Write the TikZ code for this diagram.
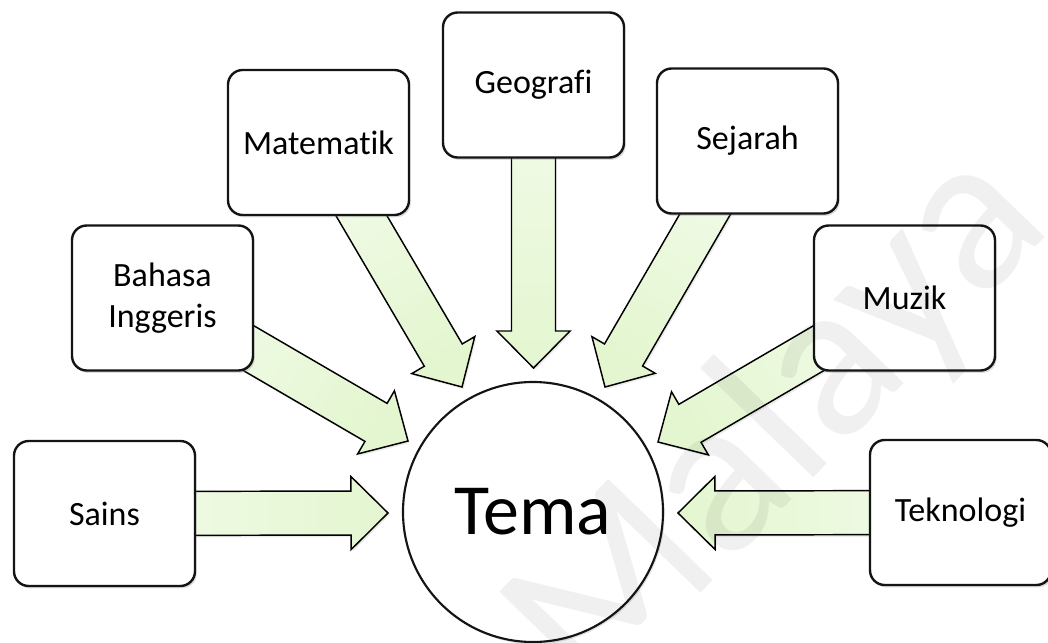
\documentclass[tikz,border=0pt]{standalone}
\usepackage{fontspec}
\setmainfont{Carlito}[Ligatures={NoCommon}]
\usetikzlibrary{calc,shadows}
\definecolor{arrstart}{RGB}{242,251,233}
\definecolor{arrtip}{RGB}{228,246,208}
\definecolor{boxline}{RGB}{20,20,20}
\tikzset{
  subj/.style={draw=boxline, line width=1.8pt, fill=white, rounded corners=11pt,
    minimum width=135.75pt, minimum height=108.75pt, inner sep=0pt, align=center,
    font=\fontsize{25.5pt}{30.75pt}\selectfont,
    drop shadow={opacity=0.28, shadow xshift=1.3pt, shadow yshift=-1.8pt}},
  themenode/.style={circle, draw=boxline, line width=1.6pt, fill=white,
    minimum size=195pt, inner sep=0pt, font=\fontsize{54pt}{60pt}\selectfont,
    drop shadow={opacity=0.22, shadow xshift=1.2pt, shadow yshift=-1.6pt}},
  fatarr/.style={draw=black, line width=1.1pt, line join=miter,
    top color=arrstart, bottom color=arrtip,
    drop shadow={opacity=0.15, shadow xshift=1.2pt, shadow yshift=-1.6pt}},
  wmark/.style={text=black, text opacity=0.06, font=\fontsize{170pt}{170pt}\selectfont}
}
\newcommand{\fatarrow}[3]{%
  \coordinate (fa-b) at ($(#2)!27.75pt!(#1)$);
  \path[fatarr, shading angle=#3]
    ($(#1)!16.5pt!90:(#2)$) -- ($(fa-b)!16.5pt!90:(#2)$) -- ($(fa-b)!27.4pt!90:(#2)$) -- (#2)
    -- ($(fa-b)!27.4pt!-90:(#2)$) -- ($(fa-b)!16.5pt!-90:(#2)$) -- ($(#1)!16.5pt!-90:(#2)$) -- cycle;
}
\begin{document}
\begin{tikzpicture}[x=0.75pt,y=-0.75pt]
\useasboundingbox (0,0) rectangle (1048,642);
% centres of the subject boxes
\coordinate (c-sains) at (104.5,513.5);
\coordinate (c-bahasa) at (162.5,298);
\coordinate (c-mate) at (318.5,142.5);
\coordinate (c-geo) at (533.5,85);
\coordinate (c-sej) at (747.5,141);
\coordinate (c-muzik) at (904.5,298);
\coordinate (c-tek) at (960.5,512.5);
% arrow tips
\coordinate (t-sains) at (388,513);
\coordinate (t-bahasa) at (408,441);
\coordinate (t-mate) at (462,387);
\coordinate (t-geo) at (533.5,368);
\coordinate (t-sej) at (605,387);
\coordinate (t-muzik) at (658,442);
\coordinate (t-tek) at (678,513);
% arrows
\fatarrow{c-sains}{t-sains}{90}
\fatarrow{c-bahasa}{t-bahasa}{60}
\fatarrow{c-mate}{t-mate}{30}
\fatarrow{c-geo}{t-geo}{0}
\fatarrow{c-sej}{t-sej}{-30}
\fatarrow{c-muzik}{t-muzik}{-60}
\fatarrow{c-tek}{t-tek}{-90}
% boxes
\node[subj] (sains) at (c-sains) {Sains};
\node[subj] (bahasa) at (c-bahasa) {Bahasa\\Inggeris};
\node[subj] (mate) at (c-mate) {Matematik};
\node[subj] (geo) at (c-geo) {Geografi};
\node[subj] (sej) at (c-sej) {Sejarah};
\node[subj] (muzik) at (c-muzik) {Muzik};
\node[subj] (tek) at (c-tek) {Teknologi};
% theme
\node[themenode] (tema) at (533,512) {Tema};
% watermark
\node[wmark, rotate=46] (wm) at (780,425) {Malaya};
\end{tikzpicture}
\end{document}
